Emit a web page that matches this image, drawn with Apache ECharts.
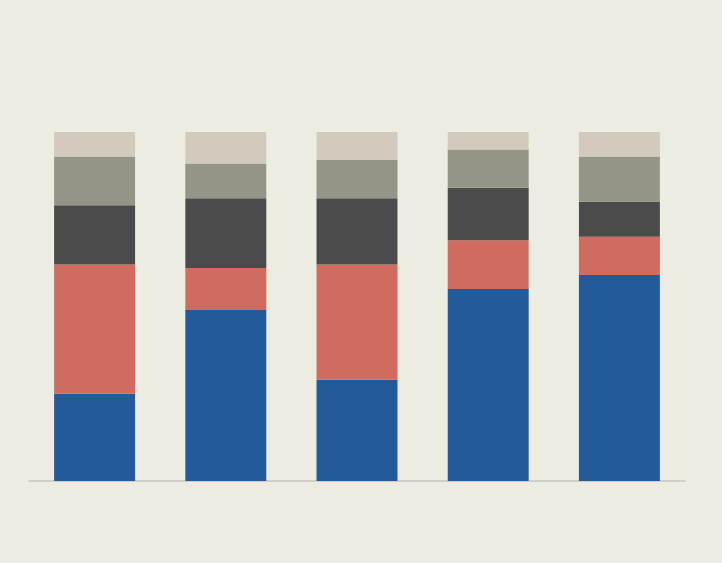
<!DOCTYPE html>
<html>
<head>
<meta charset="utf-8">
<script src="https://cdn.jsdelivr.net/npm/echarts@6/dist/echarts.min.js"></script>
<style>
  html, body { margin: 0; padding: 0; background: #edece1; }
  #chart { width: 722px; height: 563px; }
</style>
</head>
<body>
<div id="chart"></div>
<script>
// categories (labels are not shown in the picture)
const categories = ['1', '2', '3', '4', '5']

// shares per bar, bottom to top, in percent
const seriesA = [25, 49, 29, 55, 59]
const seriesB = [37, 12, 33, 14, 11]
const seriesC = [17, 20, 19, 15, 10]
const seriesD = [14, 10, 11, 11, 13]
const seriesE = [7, 9, 8, 5, 7]

const colors = ['#235a9a', '#d06b5f', '#4b4b4b', '#949586', '#d2cbbd']

const chart = echarts.init(document.getElementById('chart'))

const makeSeries = (name, data) => ({
  name: name,
  type: 'bar',
  stack: 'total',
  data: data,
  barWidth: '61.7%',
  itemStyle: { borderWidth: 0 },
  emphasis: { disabled: true }
})

chart.setOption({
  backgroundColor: '#edece1',
  color: colors,
  animation: false,
  grid: { left: 29, right: 37, top: 132, bottom: 82 },
  xAxis: {
    type: 'category',
    data: categories,
    axisLine: { show: true, lineStyle: { color: '#c6c5bc', width: 1.5 } },
    axisTick: { show: false },
    axisLabel: { show: false }
  },
  yAxis: {
    type: 'value',
    min: 0,
    max: 100,
    show: false,
    splitLine: { show: false }
  },
  series: [
    makeSeries('A', seriesA),
    makeSeries('B', seriesB),
    makeSeries('C', seriesC),
    makeSeries('D', seriesD),
    makeSeries('E', seriesE)
  ]
})
</script>
</body>
</html>
